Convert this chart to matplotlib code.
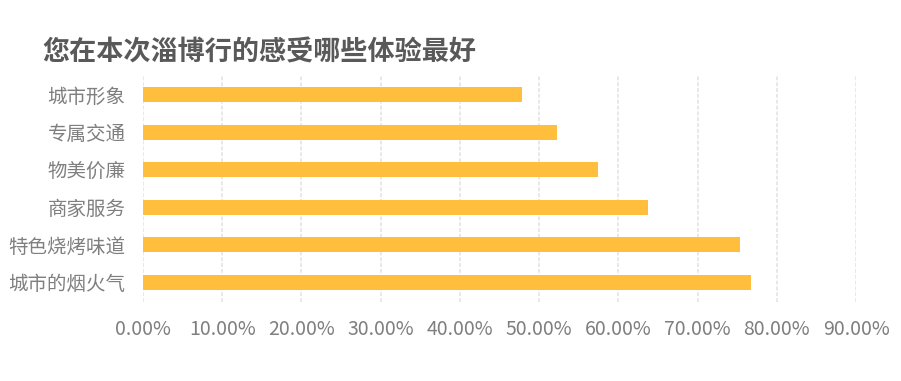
import matplotlib
matplotlib.use('Agg')
import matplotlib.pyplot as plt
from matplotlib.ticker import FuncFormatter, MultipleLocator

plt.rcParams['font.family'] = ['Noto Sans CJK SC', 'DejaVu Sans']

# Data, listed top to bottom as in the chart.
categories = ['城市形象', '专属交通', '物美价廉', '商家服务', '特色烧烤味道', '城市的烟火气']
shares = [0.479, 0.522, 0.574, 0.638, 0.753, 0.767]
title = '您在本次淄博行的感受哪些体验最好'

bar_color = '#FFBE3C'
label_color = '#7F7F7F'

fig = plt.figure(figsize=(9.01, 3.81), dpi=100)
ax = fig.add_axes((143 / 901, 1 - 302 / 381, 713 / 901, 227 / 381))

ypos = list(range(len(categories)))[::-1]
ax.barh(ypos, shares, height=0.4, color=bar_color, zorder=3)

ax.set_xlim(0, 0.9)
ax.set_ylim(-0.52, len(categories) - 0.48)
ax.xaxis.set_major_locator(MultipleLocator(0.1))
ax.xaxis.set_major_formatter(FuncFormatter(lambda v, _: f'{v * 100:.2f}%'))
ax.set_yticks(ypos)
ax.set_yticklabels(categories)

ax.grid(axis='x', color='#E8E8E8', linestyle=(0, (2, 1)), linewidth=1.4, zorder=0)
for s in ax.spines.values():
    s.set_visible(False)
ax.tick_params(axis='x', length=0, pad=12, labelsize=14, labelcolor=label_color)
ax.tick_params(axis='y', length=0, pad=12.5, labelsize=14, labelcolor=label_color)

fig.text(42 / 901, 1 - 52 / 381, title, fontsize=19.5, fontweight='bold',
         color='#595959', ha='left', va='center')

fig.savefig('out.png', dpi=100, facecolor='white')
